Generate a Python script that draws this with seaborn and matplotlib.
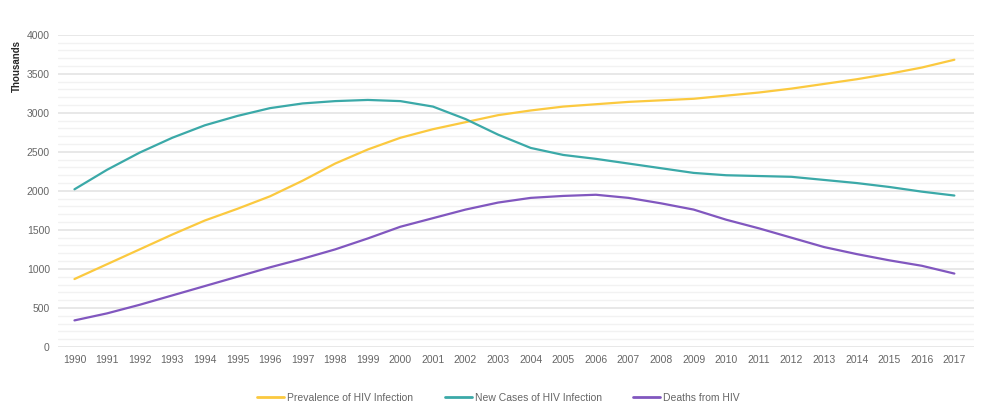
import matplotlib
matplotlib.use("Agg")
import matplotlib.pyplot as plt
from matplotlib.ticker import MultipleLocator
import numpy as np
import pandas as pd
import seaborn as sns

years = list(range(1990, 2018))

prevalence = [870, 1060, 1250, 1440, 1620, 1770, 1930, 2130, 2350, 2530,
              2680, 2790, 2880, 2970, 3030, 3080, 3110, 3140, 3160, 3180,
              3220, 3260, 3310, 3370, 3430, 3500, 3580, 3680]
new_cases = [2020, 2270, 2490, 2680, 2840, 2960, 3060, 3120, 3150, 3165,
             3150, 3080, 2920, 2720, 2550, 2460, 2410, 2350, 2290, 2230,
             2200, 2190, 2180, 2140, 2100, 2050, 1990, 1940]
deaths = [340, 430, 540, 660, 780, 900, 1020, 1130, 1250, 1390,
          1540, 1650, 1760, 1850, 1910, 1935, 1950, 1910, 1840, 1760,
          1630, 1520, 1400, 1280, 1190, 1110, 1040, 940]

series_names = ["Prevalence of HIV Infection", "New Cases of HIV Infection", "Deaths from HIV"]
series_colors = ["#FBC93F", "#3BA9A8", "#8157BF"]

df = pd.concat([
    pd.DataFrame({"Year": years, "Value": vals, "Series": name})
    for name, vals in zip(series_names, [prevalence, new_cases, deaths])
])

sns.set_theme(style="white")
plt.rcParams["font.family"] = ["Liberation Sans", "DejaVu Sans"]

fig = plt.figure(figsize=(10.03, 4.19), dpi=100)
ax = fig.add_axes([0.058, 0.172, 0.913, 0.745])

sns.lineplot(data=df, x="Year", y="Value", hue="Series",
             palette=dict(zip(series_names, series_colors)),
             linewidth=1.6, ax=ax, legend=False)

ax.set_xlim(1989.5, 2017.6)
ax.set_ylim(0, 4000)
ax.yaxis.set_major_locator(MultipleLocator(500))
ax.yaxis.set_minor_locator(MultipleLocator(100))
ax.set_xticks(years)
ax.set_xticklabels([str(y) for y in years])

ax.grid(which="major", axis="y", color="#E4E4E4", linewidth=1.2)
ax.grid(which="minor", axis="y", color="#F2F2F2", linewidth=1.0)
ax.set_axisbelow(True)
for s in ax.spines.values():
    s.set_visible(False)

ax.tick_params(axis="both", which="both", length=0, labelsize=7.5, colors="#666666", pad=6)
ax.set_xlabel("")
ax.set_ylabel("Thousands", fontsize=7, fontweight="bold", color="#262626")
ax.yaxis.set_label_coords(-0.04, 0.9)

handles = [plt.Line2D([], [], color=c, linewidth=2) for c in series_colors]
fig.legend(handles, series_names, loc="center", bbox_to_anchor=(0.497, 0.05),
           ncol=3, frameon=False, fontsize=7.5, labelcolor="#666666",
           handlelength=2.6, columnspacing=3.0, handletextpad=0.3)

fig.savefig("out.png", dpi=100, facecolor="white")
